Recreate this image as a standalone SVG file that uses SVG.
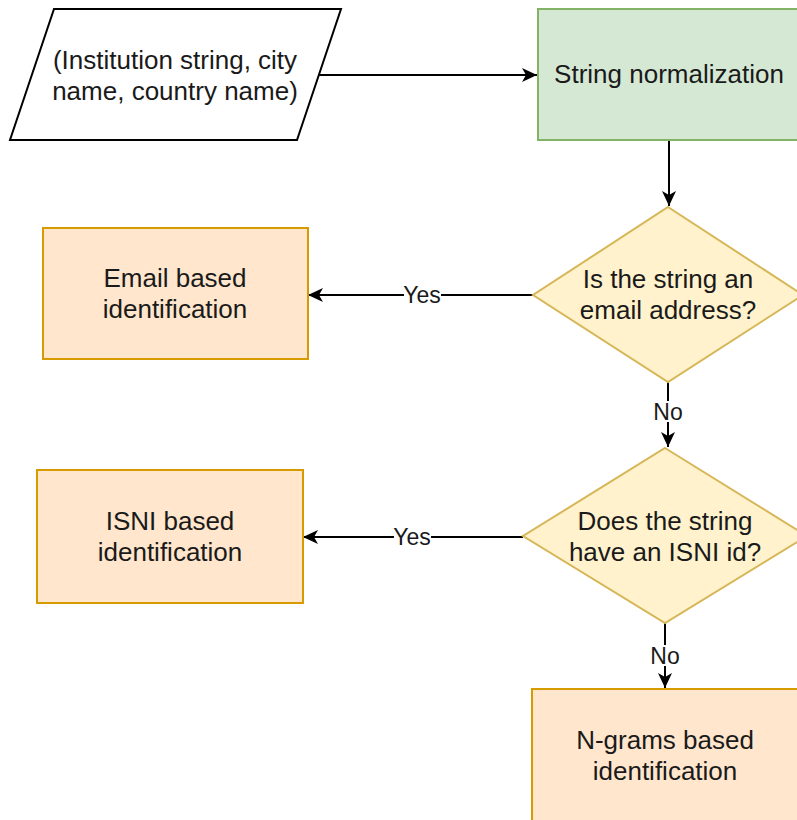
<svg xmlns="http://www.w3.org/2000/svg" width="797" height="820" viewBox="0 0 797 820">
<style>
  .t { font-family: "Liberation Sans", Arial, sans-serif; font-size: 26px; fill: #1a1a1a; text-anchor: middle; }
  .lbl { font-family: "Liberation Sans", Arial, sans-serif; font-size: 23px; fill: #1a1a1a; text-anchor: middle; }
  .edge { stroke: #000; stroke-width: 2; fill: none; marker-end: url(#arr); }
  .proc { fill: #ffe6cc; stroke: #d79b00; stroke-width: 2; }
  .dec { fill: #fff2cc; stroke: #d6b656; stroke-width: 2; }
  .bg { fill: #fff; }
</style>
<defs>
  <marker id="arr" markerUnits="userSpaceOnUse" markerWidth="16" markerHeight="14" refX="15" refY="7" orient="auto">
    <path d="M0,0 L15,7 L0,14 L4,7 Z" fill="#000"/>
  </marker>
</defs>
<rect width="797" height="820" fill="#fff"/>

<g id="connectors">
  <path class="edge" d="M319,75 L537,75"/>
  <path class="edge" d="M669,140 L669,206"/>
  <path class="edge" d="M533,295 L308,295"/>
  <path class="edge" d="M668,382 L668,447"/>
  <path class="edge" d="M523,537 L303,537"/>
  <path class="edge" d="M665,623 L665,688"/>
  <rect class="bg" x="404" y="285" width="37" height="20"/>
  <text class="lbl" x="422" y="303">Yes</text>
  <rect class="bg" x="654" y="401" width="29" height="21"/>
  <text class="lbl" x="668" y="420">No</text>
  <rect class="bg" x="394" y="527" width="37" height="20"/>
  <text class="lbl" x="412" y="545">Yes</text>
  <rect class="bg" x="651" y="645" width="29" height="21"/>
  <text class="lbl" x="665" y="664">No</text>
</g>

<g id="input">
  <polygon points="54,9 341,9 297,140 10,140" fill="#fff" stroke="#000" stroke-width="2"/>
  <text class="t" x="175" y="69">(Institution string, city</text>
  <text class="t" x="175" y="100">name, country name)</text>
</g>

<g id="normalization">
  <rect x="538" y="9" width="262" height="131" fill="#d5e8d4" stroke="#82b366" stroke-width="2"/>
  <text class="t" x="669" y="83">String normalization</text>
</g>

<g id="email-decision">
  <polygon class="dec" points="668,207 803,295 668,382 533,295"/>
  <text class="t" x="668" y="288">Is the string an</text>
  <text class="t" x="668" y="319">email address?</text>
</g>

<g id="email-id">
  <rect class="proc" x="43" y="228" width="265" height="131"/>
  <text class="t" x="175" y="287">Email based</text>
  <text class="t" x="175" y="318">identification</text>
</g>

<g id="isni-decision">
  <polygon class="dec" points="665,448 807,536 665,623 523,536"/>
  <text class="t" x="665" y="530">Does the string</text>
  <text class="t" x="665" y="561">have an ISNI id?</text>
</g>

<g id="isni-id">
  <rect class="proc" x="37" y="470" width="266" height="133"/>
  <text class="t" x="170" y="530">ISNI based</text>
  <text class="t" x="170" y="561">identification</text>
</g>

<g id="ngrams-id">
  <rect class="proc" x="532" y="689" width="266" height="132"/>
  <text class="t" x="665" y="749">N-grams based</text>
  <text class="t" x="665" y="780">identification</text>
</g>
</svg>
